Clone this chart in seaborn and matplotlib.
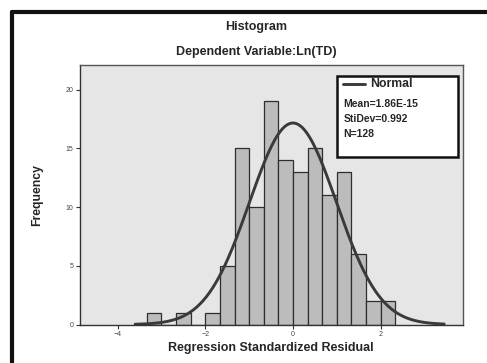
import numpy as np
import pandas as pd
import matplotlib
matplotlib.use("Agg")
import matplotlib.pyplot as plt
from matplotlib.lines import Line2D
import seaborn as sns

# bins of width 1/3 from -10/3 to 7/3
bin_edges = list(np.arange(-10, 8) / 3.0)
counts = [1, 0, 1, 0, 1, 5, 15, 10, 19, 14, 13, 15, 11, 13, 6, 2, 2]
mean_val = 1.86e-15
std_val = 0.992
n_obs = 128
x_ticks = [-4, -2, 0, 2]
y_ticks = [0, 5, 10, 15, 20]

edges = np.array(bin_edges)
centers = (edges[:-1] + edges[1:]) / 2
df = pd.DataFrame({"resid": centers, "count": counts})

sns.set_theme(style="white")
plt.rcParams["font.family"] = ["Liberation Sans", "DejaVu Sans"]

fig = plt.figure(figsize=(4.87, 3.63), dpi=100)
ax = fig.add_axes([0.164, 0.106, 0.786, 0.715])
ax.set_facecolor("#e6e6e6")

width = edges[1] - edges[0]
sns.histplot(data=df, x="resid", weights="count", binwidth=width,
             binrange=(edges[0], edges[-1]), ax=ax,
             color="#bcbcbc", edgecolor="#2e2e2e", linewidth=0.9, alpha=1)

# fitted normal curve
xs = np.linspace(-3.6, 3.45, 300)
ys = n_obs * width * np.exp(-0.5 * ((xs - mean_val) / std_val) ** 2) / (std_val * np.sqrt(2 * np.pi))
sns.lineplot(x=xs, y=ys, ax=ax, color="#3a3a3a", linewidth=2.1)

ax.set_xlim(-4.86, 3.87)
ax.set_ylim(0, 22.1)
ax.set_xticks(x_ticks)
ax.set_yticks(y_ticks)
ax.tick_params(axis="both", labelsize=5, length=3, width=0.8, color="#333333",
               labelcolor="#444444", direction="out", pad=1.5)
ax.tick_params(axis="x", bottom=True)
ax.tick_params(axis="y", left=True)
for s in ax.spines.values():
    s.set_color("#555555")
    s.set_linewidth(1.0)
ax.spines["left"].set_color("#333333")
ax.spines["bottom"].set_color("#333333")
ax.set_xlabel("")
ax.set_ylabel("")

# legend box
leg = plt.Rectangle((0.672, 0.645), 0.316, 0.313, transform=ax.transAxes,
                    facecolor="white", edgecolor="#111111", linewidth=1.8, zorder=5)
ax.add_patch(leg)
ax.add_line(Line2D([0.688, 0.745], [0.925, 0.925], transform=ax.transAxes,
                   color="#3a3a3a", linewidth=2.1, zorder=6))
ax.text(0.758, 0.925, "Normal", transform=ax.transAxes, fontsize=8.8,
        fontweight="bold", va="center", ha="left", zorder=6)
stats_lines = ["Mean=1.86E-15", "StiDev=0.992", "N=%d" % n_obs]
for i, t in enumerate(stats_lines):
    ax.text(0.688, 0.85 - i * 0.058, t, transform=ax.transAxes, fontsize=7.5,
            fontweight="bold", va="center", ha="left", zorder=6)

fig.text(0.526, 0.925, "Histogram", fontsize=9, fontweight="bold", ha="center", va="center")
fig.text(0.526, 0.857, "Dependent Variable:Ln(TD)", fontsize=9, fontweight="bold",
         ha="center", va="center")
fig.text(0.557, 0.041, "Regression Standardized Residual", fontsize=9,
         fontweight="bold", ha="center", va="center")
fig.text(0.076, 0.463, "Frequency", fontsize=8.8, fontweight="bold",
         ha="center", va="center", rotation=90)

# outer frame (left and top edges visible)
fig.add_artist(Line2D([0.025, 0.025], [0.0, 0.967], transform=fig.transFigure,
                      color="#111111", linewidth=3))
fig.add_artist(Line2D([0.025, 1.0], [0.967, 0.967], transform=fig.transFigure,
                      color="#111111", linewidth=3))

fig.savefig("out.png", dpi=100)
